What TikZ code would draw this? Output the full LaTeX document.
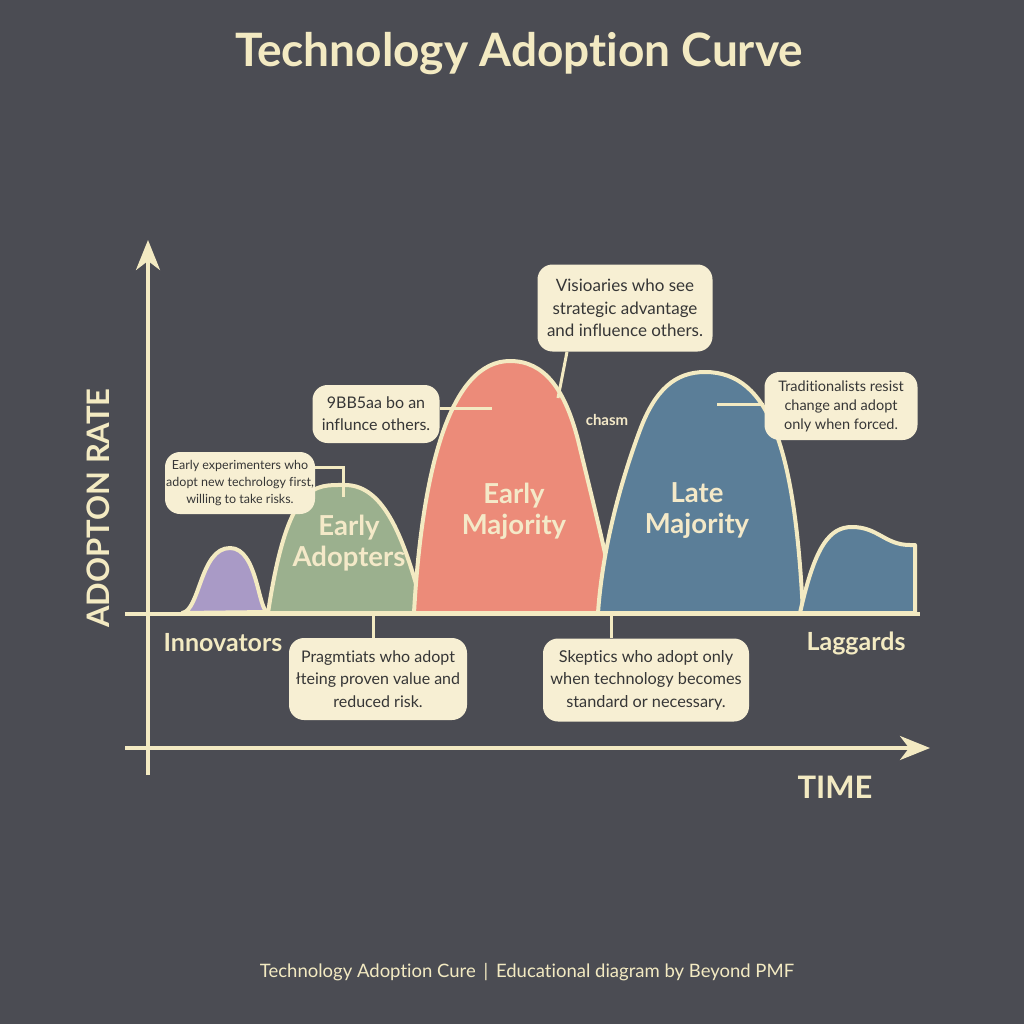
\documentclass[tikz,border=0pt]{standalone}
\usepackage{fontspec}
\setmainfont{Lato}[Ligatures=NoCommon]
\usetikzlibrary{arrows.meta}
\definecolor{bg}{HTML}{4B4C53}
\definecolor{cream}{HTML}{F3EAC2}
\definecolor{boxfill}{HTML}{F7EFD3}
\definecolor{darktext}{HTML}{363636}
\definecolor{cpurple}{HTML}{A99AC6}
\definecolor{cgreen}{HTML}{9BB08E}
\definecolor{csalmon}{HTML}{EC8B79}
\definecolor{cblue}{HTML}{5B7E98}
\definecolor{labeltext}{HTML}{F4E9C8}
\tikzset{
  curve/.style={draw=cream, line width=4pt, line join=round},
  axis/.style={draw=cream, line width=3.5pt, -{Stealth[length=30pt,width=24pt,inset=9pt]}},
  conn/.style={draw=cream, line width=3pt},
  callout/.style={fill=boxfill, rounded corners=15pt, text=darktext, align=center, inner sep=0pt},
  curvelabel/.style={text=labeltext, font=\bfseries\fontsize{27.5}{31}\selectfont, align=center},
  catlabel/.style={text=cream, font=\bfseries\fontsize{25}{28}\selectfont},
}
\begin{document}
\begin{tikzpicture}[x=1pt,y=-1pt]
\fill[bg] (0,0) rectangle (1024,1024);
\useasboundingbox (0,0) rectangle (1024,1024);

% title
\node[text=cream, font=\bfseries\fontsize{46}{52}\selectfont] (title) at (519,54) {Technology Adoption Curve};

% curves
\path[curve, fill=cpurple] (182,613) .. controls (200,611) and (200,548) .. (230,548) .. controls (258,548) and (258,612) .. (268,612) -- cycle;
\path[curve, fill=cgreen] (268,613) .. controls (288,480) and (315,485) .. (345,485) .. controls (385,485) and (405,540) .. (424,613) -- cycle;
\path[curve, fill=csalmon] (414,613) .. controls (422,470) and (450,361) .. (510,361) .. controls (545,361) and (565,390) .. (578,440) .. controls (590,490) and (608,560) .. (617,613) -- cycle;
\path[curve, fill=cblue] (598,613) .. controls (603,540) and (625,470) .. (640,430) .. controls (655,390) and (675,372) .. (705,372) .. controls (770,372) and (795,450) .. (803,613) -- cycle;
\path[curve, fill=cblue] (800,613) .. controls (815,545) and (830,527) .. (852,527) .. controls (878,527) and (885,545) .. (910,545) -- (915,545) -- (915,613) -- cycle;

% baseline and axes
\draw[draw=cream, line width=4pt] (125,614) -- (920,614);
\coordinate (yaxisstart) at (148,775);
\coordinate (yaxisend) at (148,240);
\coordinate (xaxisstart) at (125,748);
\coordinate (xaxisend) at (930,748);
\draw[axis] (yaxisstart) -- (yaxisend);
\draw[axis] (xaxisstart) -- (xaxisend);

% axis labels
\node[text=cream, font=\bfseries\fontsize{31}{34}\selectfont, rotate=90] (ylabel) at (98,508) {ADOPTON RATE};
\node[text=cream, font=\bfseries\fontsize{31}{34}\selectfont] (xlabel) at (835,787) {TIME};

% category labels
\node[catlabel] (innov) at (223,643) {Innovators};
\node[catlabel] (lagg) at (856,643) {Laggards};
\node[curvelabel] (ea) at (349,543) {Early\\Adopters};
\node[curvelabel] (em) at (514,511) {Early\\Majority};
\node[curvelabel] (lm) at (697,511) {Late\\Majority};
\node[text=labeltext, font=\bfseries\fontsize{15}{17}\selectfont] (chasm) at (607,420) {chasm};

% callouts
\node[callout, minimum width=150pt, minimum height=62pt, font=\fontsize{12.5}{17}\selectfont] (b1) at (240,483)
  {Early experimenters who\\adopt new techrology first,\\willing to take risks.};
\node[callout, minimum width=127pt, minimum height=58pt, font=\fontsize{16}{22}\selectfont] (b2) at (376,414)
  {9BB5aa bo an\\influnce others.};
\node[callout, minimum width=175pt, minimum height=87pt, font=\fontsize{17}{22.5}\selectfont] (b3) at (625,308)
  {Visioaries who see\\strategic advantage\\and influence others.};
\node[callout, minimum width=153pt, minimum height=68pt, font=\fontsize{14.5}{19}\selectfont] (b4) at (841,406)
  {Traditionalists resist\\change and adopt\\only when forced.};
\node[callout, minimum width=178pt, minimum height=82pt, font=\fontsize{16}{22.5}\selectfont] (b5) at (378,679)
  {Pragmtiats who adopt\\łteing proven value and\\reduced risk.};
\node[callout, minimum width=206pt, minimum height=83pt, font=\fontsize{16.3}{22.5}\selectfont] (b6) at (646,680)
  {Skeptics who adopt only\\when technology becomes\\standard or necessary.};

% connector ends
\coordinate (c1) at (343,497);
\coordinate (c2) at (492,408);
\coordinate (c3) at (558,398);
\coordinate (c4) at (717,404);
\coordinate (c5) at (373,614);
\coordinate (c6) at (611,614);

\draw[conn] ([yshift=16pt]b1.east) -| (c1);
\draw[conn] ([yshift=6pt]b2.east) -- (c2);
\draw[conn] ([xshift=-58pt]b3.south) -- (c3);
\draw[conn] ([yshift=2pt]b4.west) -- (c4);
\draw[conn] (c5) -- (c5 |- b5.north);
\draw[conn] (c6) -- (c6 |- b6.north);

% footer
\node[text=cream, font=\fontsize{18.5}{22}\selectfont] (footer) at (527,972) {Technology Adoption Cure \,|\, Educational diagram by Beyond PMF};
\end{tikzpicture}
\end{document}
